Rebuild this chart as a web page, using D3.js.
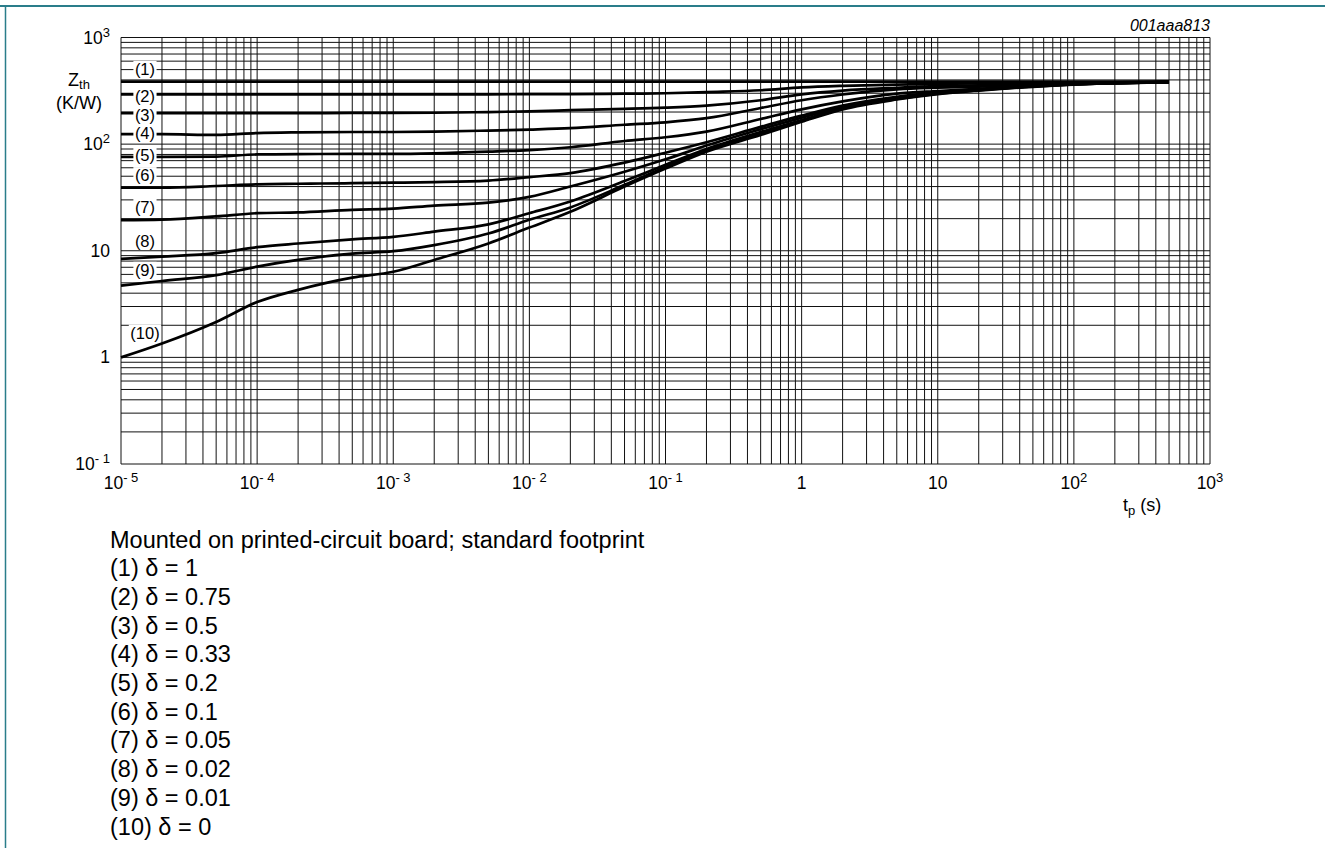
<!DOCTYPE html>
<html>
<head>
<meta charset="utf-8">
<script src="https://cdn.jsdelivr.net/npm/d3@7"></script>
<style>
  body { margin: 0; background: #fff; }
  svg { display: block; font-family: "Liberation Sans", Arial, sans-serif; }
</style>
</head>
<body>
<div id="chart"></div>
<script>
// pulse duration (s)
const tp = [1e-5, 2e-5, 5e-5, 1e-4, 2e-4, 5e-4, 1e-3, 2e-3, 5e-3, 1e-2, 2e-2, 5e-2,
            0.1, 0.2, 0.5, 1, 2, 5, 10, 20, 50, 100, 200, 500];

// Zth (K/W) per duty cycle
const zthD1    = [385, 385, 385, 385, 385, 385, 385, 385, 385, 385, 385, 385, 385, 385, 385, 385, 385, 385, 385, 385, 385, 385, 385, 385];
const zthD075  = [293, 293, 293, 293, 293, 293, 293, 293, 293, 294, 295, 297, 300, 308, 320, 340, 352, 362, 368, 371, 375, 378, 380, 383];
const zthD05   = [195, 195, 195, 195, 195, 196, 196, 197, 200, 203, 208, 214, 220, 230, 258, 293, 318, 338, 350, 356, 366, 373, 378, 383];
const zthD033  = [124, 124, 122, 127, 129, 130, 130, 131, 134, 137, 141, 152, 160, 175, 218, 258, 292, 326, 338, 346, 360, 370, 377, 382];
const zthD02   = [76, 76, 76.5, 80, 80.5, 81, 81, 82, 85, 88, 93.5, 107, 116, 131, 172, 212, 252, 298, 315, 330, 353, 367, 375, 382];
const zthD01   = [39, 39, 40.5, 42, 42.5, 43, 43.5, 44, 45.5, 49, 53.5, 67, 83, 104, 145, 185, 230, 278, 306, 327, 351, 366, 375, 382];
const zthD005  = [19.4, 19.6, 21, 22.5, 22.9, 24.2, 24.8, 26.5, 28.3, 32, 40, 55, 72, 97, 138, 177, 224, 273, 303, 325, 350, 365, 374, 382];
const zthD002  = [8.4, 8.8, 9.5, 10.8, 11.7, 12.8, 13.5, 15.1, 17.7, 22.5, 29, 45, 64, 90, 130, 168, 218, 268, 300, 323, 349, 364, 374, 382];
const zthD001  = [4.7, 5.2, 5.9, 7.1, 8.2, 9.4, 9.9, 11.3, 14.5, 19.5, 25.5, 41.5, 61, 87, 126, 165, 215, 265, 297, 320, 347, 363, 373, 382];
const zthD0    = [1.0, 1.35, 2.15, 3.3, 4.3, 5.6, 6.35, 8.2, 11.7, 16.5, 23.2, 40, 59, 85, 122, 162, 212, 262, 294, 318, 345, 362, 372, 382];

const curveNames = ['(1)', '(2)', '(3)', '(4)', '(5)', '(6)', '(7)', '(8)', '(9)', '(10)'];
const deltas = ['1', '0.75', '0.5', '0.33', '0.2', '0.1', '0.05', '0.02', '0.01', '0'];
const curveValues = [zthD1, zthD075, zthD05, zthD033, zthD02, zthD01, zthD005, zthD002, zthD001, zthD0];
// where each (n) tag sits, in Zth units, at t = 1.5e-5
const tagZth = [506, 283, 187, 127, 79, 51, 25.7, 12.4, 6.6, 1.7];
const tagT = 1.5e-5;

const xTicks = [1e-5, 1e-4, 1e-3, 1e-2, 1e-1, 1, 10, 100, 1000];
const xTickText = [['10', '- 5'], ['10', '- 4'], ['10', '- 3'], ['10', '- 2'], ['10', '- 1'], ['1', ''], ['10', ''], ['10', '2'], ['10', '3']];
const yTicks = [0.1, 1, 10, 100, 1000];
const yTickText = [['10', '- 1'], ['1', ''], ['10', ''], ['10', '2'], ['10', '3']];

const caption = 'Mounted on printed-circuit board; standard footprint';

const w = 1325;
const h = 848;
const plotL = 121, plotR = 1210, plotT = 37.5, plotB = 464;

const svg = d3.select('#chart').append('svg')
  .attr('width', w)
  .attr('height', h);

// page frame
svg.append('line')
  .attr('x1', 0).attr('x2', w).attr('y1', 6).attr('y2', 6)
  .attr('stroke', '#2a7d8a').attr('stroke-width', 2);
svg.append('line')
  .attr('x1', 5.5).attr('x2', 5.5).attr('y1', 6).attr('y2', h)
  .attr('stroke', '#2a7d8a').attr('stroke-width', 1.5);

const xScale = d3.scaleLog().domain([1e-5, 1e3]).range([plotL, plotR]);
const yScale = d3.scaleLog().domain([0.1, 1e3]).range([plotB, plotT]);

// grid: every decade step 1..9
const gridX = [];
for (let e = -5; e < 3; e++) for (let k = 1; k < 10; k++) gridX.push(k * Math.pow(10, e));
gridX.push(1e3);
const gridY = [];
for (let e = -1; e < 3; e++) for (let k = 1; k < 10; k++) gridY.push(k * Math.pow(10, e));
gridY.push(1e3);

const grid = svg.append('g').attr('stroke', '#111').attr('stroke-width', 1);
grid.selectAll('.gx').data(gridX).enter().append('line')
  .attr('class', 'gx')
  .attr('x1', d => xScale(d)).attr('x2', d => xScale(d))
  .attr('y1', plotT).attr('y2', plotB);
grid.selectAll('.gy').data(gridY).enter().append('line')
  .attr('class', 'gy')
  .attr('y1', d => yScale(d)).attr('y2', d => yScale(d))
  .attr('x1', plotL).attr('x2', plotR);

// curves
const line = d3.line()
  .x(d => xScale(d[0]))
  .y(d => yScale(d[1]))
  .curve(d3.curveMonotoneX);

svg.append('g').selectAll('path')
  .data(curveValues)
  .enter()
  .append('path')
  .attr('d', vals => line(tp.map((t, i) => [t, vals[i]])))
  .attr('fill', 'none')
  .attr('stroke', '#000')
  .attr('stroke-width', 2.7)
  .attr('stroke-linejoin', 'round');

// (n) tags with white box
const tags = svg.append('g')
  .attr('font-size', 16.5)
  .attr('fill', '#000');
curveNames.forEach((name, i) => {
  const g = tags.append('g');
  const txt = g.append('text')
    .attr('x', xScale(tagT))
    .attr('y', yScale(tagZth[i]))
    .attr('dy', '0.35em')
    .attr('text-anchor', 'middle')
    .text(name);
  const b = txt.node().getBBox();
  g.insert('rect', 'text')
    .attr('x', b.x - 1.5).attr('y', b.y + 1)
    .attr('width', b.width + 3).attr('height', b.height - 2)
    .attr('fill', '#fff');
});

// tick labels with superscript
function powerLabel(sel, parts) {
  sel.append('tspan').text(parts[0]);
  if (parts[1]) {
    sel.append('tspan')
      .attr('font-size', 13)
      .attr('dy', -7)
      .text(parts[1]);
  }
}

const xLabels = svg.append('g').attr('font-size', 17.5).attr('fill', '#000');
xTicks.forEach((t, i) => {
  const txt = xLabels.append('text')
    .attr('x', xScale(t))
    .attr('y', 489)
    .attr('text-anchor', 'middle');
  powerLabel(txt, xTickText[i]);
});

const yLabels = svg.append('g').attr('font-size', 17.5).attr('fill', '#000');
yTicks.forEach((v, i) => {
  const txt = yLabels.append('text')
    .attr('x', 110)
    .attr('y', yScale(v) + 6)
    .attr('text-anchor', 'end');
  powerLabel(txt, yTickText[i]);
});

// axis titles
const zt = svg.append('text')
  .attr('x', 79).attr('y', 86)
  .attr('text-anchor', 'middle')
  .attr('font-size', 18);
zt.append('tspan').text('Z');
zt.append('tspan').attr('font-size', 13).attr('dy', 3).text('th');
svg.append('text')
  .attr('x', 79).attr('y', 109)
  .attr('text-anchor', 'middle')
  .attr('font-size', 18)
  .text('(K/W)');

const xt = svg.append('text')
  .attr('x', 1123).attr('y', 511)
  .attr('font-size', 18);
xt.append('tspan').text('t');
xt.append('tspan').attr('font-size', 13).attr('dy', 4).text('p');
xt.append('tspan').attr('dy', -4).text(' (s)');

svg.append('text')
  .attr('x', plotR).attr('y', 31)
  .attr('text-anchor', 'end')
  .attr('font-size', 16)
  .attr('font-style', 'italic')
  .text('001aaa813');

// caption and duty-cycle key
const key = svg.append('g').attr('font-size', 23.5).attr('fill', '#000');
key.append('text').attr('x', 110).attr('y', 547.5).text(caption);
curveNames.forEach((name, i) => {
  key.append('text')
    .attr('x', 110)
    .attr('y', 547.5 + (i + 1) * 28.7)
    .text(name + ' \u03b4 = ' + deltas[i]);
});
</script>
</body>
</html>
